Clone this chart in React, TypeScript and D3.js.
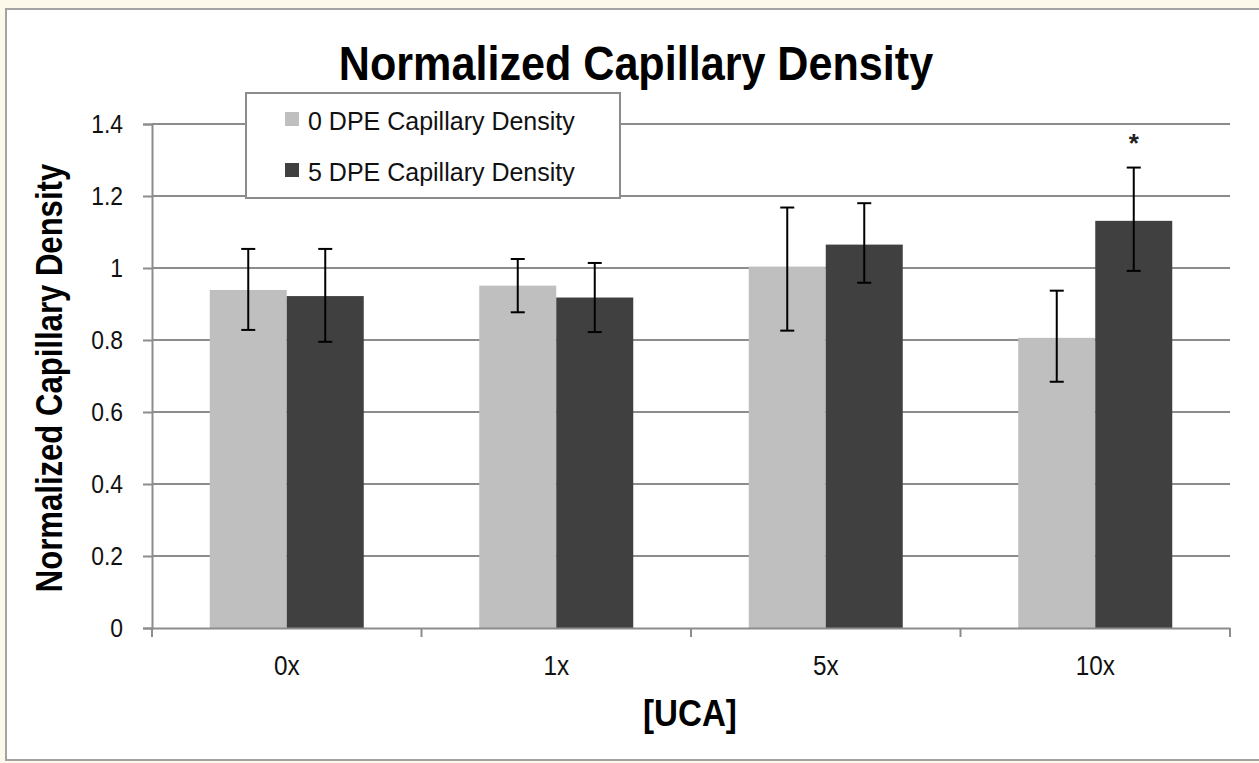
import React, { useEffect, useRef } from 'react';
import * as d3 from 'd3';

// Data
const categories = ['0x', '1x', '5x', '10x'];
const seriesNames = ['0 DPE Capillary Density', '5 DPE Capillary Density'];
const day0Values = [0.939, 0.951, 1.004, 0.806];
const day0Upper = [1.053, 1.025, 1.168, 0.937];
const day0Lower = [0.828, 0.877, 0.826, 0.684];
const day5Values = [0.922, 0.918, 1.065, 1.131];
const day5Upper = [1.053, 1.014, 1.18, 1.279];
const day5Lower = [0.795, 0.822, 0.959, 0.992];
const yTicks = [0, 0.2, 0.4, 0.6, 0.8, 1, 1.2, 1.4];
const starCategory = '10x';

const seriesColors = ['#bfbfbf', '#404040'];
const font = '"Liberation Sans", Arial, sans-serif';

// squeeze text horizontally to mimic a narrow face
function squeeze(sel: d3.Selection<any, any, any, any>, factor: number) {
  sel.each(function () {
    const el = this as SVGTextElement;
    const len = el.getComputedTextLength();
    el.setAttribute('textLength', String(len * factor));
    el.setAttribute('lengthAdjust', 'spacingAndGlyphs');
  });
}

const App: React.FC = () => {
  const svgRef = useRef<SVGSVGElement>(null);

  useEffect(() => {
    if (!svgRef.current) return;
    const svg = d3.select(svgRef.current);
    svg.selectAll('*').remove();

    const width = 1259;
    const height = 763;
    const margin = { top: 124, right: 29, bottom: 135, left: 152 };

    // page background and frame
    svg.append('rect').attr('width', width).attr('height', height).attr('fill', '#fdf9ea');
    svg
      .append('rect')
      .attr('x', 6)
      .attr('y', 9)
      .attr('width', width)
      .attr('height', 751)
      .attr('fill', '#ffffff')
      .attr('stroke', '#a3a3a3')
      .attr('stroke-width', 2);

    const x0 = d3
      .scaleBand()
      .domain(categories)
      .range([margin.left, width - margin.right])
      .paddingInner(0)
      .paddingOuter(0);

    // Excel style: gap width 150%
    const barW = x0.bandwidth() / 3.5;
    const x1 = d3
      .scaleBand()
      .domain(['0', '1'])
      .range([0, barW * 2]);

    const y = d3
      .scaleLinear()
      .domain([0, 1.4])
      .range([height - margin.bottom, margin.top]);

    // gridlines
    svg
      .append('g')
      .selectAll('line')
      .data(yTicks.filter(t => t > 0))
      .enter()
      .append('line')
      .attr('x1', margin.left)
      .attr('x2', width - margin.right)
      .attr('y1', d => y(d))
      .attr('y2', d => y(d))
      .attr('stroke', '#8c8c8c')
      .attr('stroke-width', 2);

    const groups = [
      { values: day0Values, upper: day0Upper, lower: day0Lower },
      { values: day5Values, upper: day5Upper, lower: day5Lower },
    ];
    const barX = (c: string, si: number) => (x0(c) ?? 0) + barW * 0.75 + (x1(String(si)) ?? 0);

    // bars
    groups.forEach((g, si) => {
      svg
        .append('g')
        .selectAll('rect')
        .data(categories)
        .enter()
        .append('rect')
        .attr('x', c => barX(c, si))
        .attr('y', (c, i) => y(g.values[i]))
        .attr('width', barW)
        .attr('height', (c, i) => y(0) - y(g.values[i]))
        .attr('fill', seriesColors[si]);
    });

    // error bars
    groups.forEach((g, si) => {
      const eb = svg.append('g').attr('stroke', '#000').attr('stroke-width', 2);
      categories.forEach((c, i) => {
        const cx = barX(c, si) + barW / 2;
        eb.append('line').attr('x1', cx).attr('x2', cx).attr('y1', y(g.upper[i])).attr('y2', y(g.lower[i]));
        [g.upper[i], g.lower[i]].forEach(v => {
          eb.append('line').attr('x1', cx - 7).attr('x2', cx + 7).attr('y1', y(v)).attr('y2', y(v));
        });
      });
    });

    // significance star
    const si = categories.indexOf(starCategory);
    svg
      .append('text')
      .attr('x', barX(starCategory, 1) + barW / 2)
      .attr('y', y(day5Upper[si]) - 16)
      .attr('text-anchor', 'middle')
      .style('font-family', font)
      .style('font-size', '26px')
      .style('font-weight', 'bold')
      .attr('fill', '#222')
      .text('*');

    // y axis
    const yAxis = svg
      .append('g')
      .attr('transform', `translate(${margin.left},0)`)
      .call(d3.axisLeft(y).tickValues(yTicks).tickSize(9).tickPadding(20).tickFormat(d => String(d)));
    yAxis.select('.domain').attr('stroke', '#8c8c8c').attr('stroke-width', 2);
    yAxis.selectAll('.tick line').attr('stroke', '#8c8c8c').attr('stroke-width', 2);
    const yLabels = yAxis
      .selectAll('.tick text')
      .style('font-family', font)
      .style('font-size', '26px')
      .attr('fill', '#111');
    squeeze(yLabels, 0.88);

    // x axis
    const xAxis = svg
      .append('g')
      .attr('transform', `translate(0,${y(0)})`)
      .call(d3.axisBottom(x0).tickSize(0).tickPadding(28));
    xAxis.select('.domain').attr('stroke', '#8c8c8c').attr('stroke-width', 2);
    const xLabels = xAxis
      .selectAll('.tick text')
      .style('font-family', font)
      .style('font-size', '27px')
      .attr('fill', '#111');
    squeeze(xLabels, 0.9);
    const bounds = categories.map(c => x0(c) ?? 0).concat([width - margin.right]);
    svg
      .append('g')
      .selectAll('line')
      .data(bounds)
      .enter()
      .append('line')
      .attr('x1', d => d)
      .attr('x2', d => d)
      .attr('y1', y(0))
      .attr('y2', y(0) + 9)
      .attr('stroke', '#8c8c8c')
      .attr('stroke-width', 2);

    // titles
    const title = svg
      .append('text')
      .attr('x', 636)
      .attr('y', 80)
      .attr('text-anchor', 'middle')
      .style('font-family', font)
      .style('font-size', '49px')
      .style('font-weight', 'bold')
      .attr('fill', '#000')
      .text('Normalized Capillary Density');
    squeeze(title, 0.88);

    const xTitle = svg
      .append('text')
      .attr('x', 690)
      .attr('y', 726)
      .attr('text-anchor', 'middle')
      .style('font-family', font)
      .style('font-size', '36px')
      .style('font-weight', 'bold')
      .attr('fill', '#000')
      .text('[UCA]');
    squeeze(xTitle, 0.92);

    const yTitle = svg
      .append('text')
      .attr('transform', `translate(62,${378}) rotate(-90)`)
      .attr('text-anchor', 'middle')
      .style('font-family', font)
      .style('font-size', '37px')
      .style('font-weight', 'bold')
      .attr('fill', '#000')
      .text('Normalized Capillary Density');
    squeeze(yTitle, 0.84);

    // legend
    const legend = svg.append('g').attr('transform', 'translate(246,93)');
    legend
      .append('rect')
      .attr('width', 374)
      .attr('height', 105)
      .attr('fill', '#fff')
      .attr('stroke', '#8c8c8c')
      .attr('stroke-width', 2);
    seriesNames.forEach((name, i) => {
      const row = legend.append('g').attr('transform', `translate(0,${i * 51})`);
      row
        .append('rect')
        .attr('x', 39)
        .attr('y', 19)
        .attr('width', 14)
        .attr('height', 14)
        .attr('fill', seriesColors[i]);
      row
        .append('text')
        .attr('x', 62)
        .attr('y', 37)
        .style('font-family', font)
        .style('font-size', '25px')
        .attr('fill', '#111')
        .text(name);
    });
  }, []);

  return (
    <div style={{ position: 'absolute', left: 0, top: 0 }}>
      <svg ref={svgRef} width={1259} height={763} style={{ display: 'block' }}></svg>
    </div>
  );
};

export default App;
